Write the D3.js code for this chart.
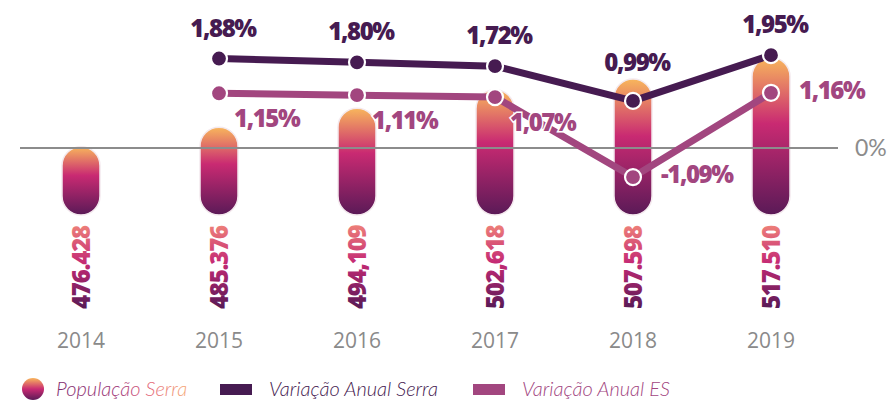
<!DOCTYPE html>
<html><head><meta charset="utf-8">
<script src="https://cdn.jsdelivr.net/npm/d3@7"></script>
<style>
html,body{margin:0;padding:0;background:#fff;}
svg{display:block;}
</style></head>
<body>
<svg id="chart" width="890" height="401"></svg>
<script>
// ---- data ----
const years = ["2014","2015","2016","2017","2018","2019"];
const population = [476428, 485376, 494109, 502618, 507598, 517510];
const populationLabels = ["476.428","485.376","494,109","502,618","507.598","517.510"];
const serraYears = ["2015","2016","2017","2018","2019"];
const serraVar = [1.88, 1.80, 1.72, 0.99, 1.95];
const esVar = [1.15, 1.11, 1.07, -1.09, 1.16];
const esLabelSide = ["below","below","below","right","right"];
const fmtPct = v => d3.format(".2f")(v).replace("\u2212", "-").replace(".", ",") + "%";

const svg = d3.select("#chart");

const x = d3.scalePoint().domain(years).range([81, 771]);
// bar scale (population)
const yPop = d3.scaleLinear().domain([445000, 520000]).range([215, 52]);
// variation scale (the original chart is drawn with a compressed negative side)
const yVar = d3.scaleLinear().domain([-1.5, 0, 2.5]).range([188, 148, 29]);

const defs = svg.append("defs");
const barGrad = defs.append("linearGradient").attr("id","barGrad")
  .attr("x1",0).attr("y1",0).attr("x2",0).attr("y2",1);
barGrad.append("stop").attr("offset","0%").attr("stop-color","#f8b65c");
barGrad.append("stop").attr("offset","42%").attr("stop-color","#c92a72");
barGrad.append("stop").attr("offset","100%").attr("stop-color","#5a1a57");

const txtGrad = defs.append("linearGradient").attr("id","txtGrad")
  .attr("x1",0).attr("y1",0).attr("x2",1).attr("y2",0);
txtGrad.append("stop").attr("offset","0%").attr("stop-color","#561a55");
txtGrad.append("stop").attr("offset","55%").attr("stop-color","#c42a74");
txtGrad.append("stop").attr("offset","100%").attr("stop-color","#ee8079");

const legGrad = defs.append("linearGradient").attr("id","legGrad")
  .attr("x1",0).attr("y1",0).attr("x2",1).attr("y2",0);
legGrad.append("stop").attr("offset","0%").attr("stop-color","#7e2a6c");
legGrad.append("stop").attr("offset","50%").attr("stop-color","#a23a78");
legGrad.append("stop").attr("offset","68%").attr("stop-color","#e0607a");
legGrad.append("stop").attr("offset","100%").attr("stop-color","#f5a878");

const dotGrad = defs.append("linearGradient").attr("id","dotGrad")
  .attr("x1",0).attr("y1",0).attr("x2",0).attr("y2",1);
dotGrad.append("stop").attr("offset","0%").attr("stop-color","#f8b65c");
dotGrad.append("stop").attr("offset","50%").attr("stop-color","#c92a72");
dotGrad.append("stop").attr("offset","100%").attr("stop-color","#5a1a57");

const barW = 38;
// bars
svg.append("g").selectAll("rect").data(population).join("rect")
  .attr("x",(d,i)=>x(years[i]) - barW/2)
  .attr("y",d=>yPop(d))
  .attr("width",barW)
  .attr("height",d=>yPop.range()[0]-yPop(d))
  .attr("rx",barW/2).attr("ry",barW/2)
  .attr("fill","url(#barGrad)")
  .attr("stroke","#f4e9ee").attr("stroke-width",1.5);

// zero line
svg.append("line")
  .attr("x1",20).attr("x2",838)
  .attr("y1",yVar(0)).attr("y2",yVar(0))
  .attr("stroke","#8c8c8c").attr("stroke-width",2);
svg.append("text").attr("x",855).attr("y",yVar(0)+8)
  .attr("font-family","Lato, 'Open Sans', sans-serif").attr("font-size",23)
  .attr("fill","#8c8c8c").text("0%");

// population labels (rotated)
svg.append("g").selectAll("text").data(populationLabels).join("text")
  .attr("transform",(d,i)=>`translate(${x(years[i])},309) rotate(-90)`)
  .attr("dy","0.36em")
  .attr("font-family","'Open Sans', sans-serif").attr("font-weight",800)
  .attr("font-size",24).attr("letter-spacing","-1.2")
  .attr("fill","url(#txtGrad)")
  .text(d=>d);

// year labels
svg.append("g").selectAll("text").data(years).join("text")
  .attr("x",d=>x(d)).attr("y",348)
  .attr("text-anchor","middle")
  .attr("font-family","'Open Sans', sans-serif").attr("font-size",21).attr("font-weight",500)
  .attr("fill","#8a8a8a").text(d=>d);

// lines
const line = d3.line().x(d=>x(d[0])).y(d=>yVar(d[1]));
const esData = serraYears.map((y,i)=>[y, esVar[i]]);
const serraData = serraYears.map((y,i)=>[y, serraVar[i]]);

svg.append("path").datum(esData).attr("d",line)
  .attr("fill","none").attr("stroke","#a2467f").attr("stroke-width",7)
  .attr("stroke-linejoin","round");
svg.append("path").datum(serraData).attr("d",line)
  .attr("fill","none").attr("stroke","#461b51").attr("stroke-width",7)
  .attr("stroke-linejoin","round");

svg.append("g").selectAll("circle").data(esData).join("circle")
  .attr("cx",d=>x(d[0])).attr("cy",d=>yVar(d[1])).attr("r",8)
  .attr("fill","#a2467f").attr("stroke","#fff").attr("stroke-width",2.2);
svg.append("g").selectAll("circle").data(serraData).join("circle")
  .attr("cx",d=>x(d[0])).attr("cy",d=>yVar(d[1])).attr("r",8)
  .attr("fill","#461b51").attr("stroke","#fff").attr("stroke-width",2.2);

// labels
svg.append("g").selectAll("text").data(serraData).join("text")
  .attr("x",d=>x(d[0])+4).attr("y",d=>yVar(d[1]) - (d[1] < 1.5 ? 30 : 22))
  .attr("text-anchor","middle")
  .attr("font-family","'Open Sans', sans-serif").attr("font-weight",800)
  .attr("font-size",24).attr("letter-spacing","-1.4")
  .attr("fill","#461b51").text(d=>fmtPct(d[1]));

svg.append("g").selectAll("text").data(esData).join("text")
  .attr("x",(d,i)=>x(d[0]) + (esLabelSide[i]==="below" ? 15 : 28))
  .attr("y",(d,i)=>yVar(d[1]) + (esLabelSide[i]==="below" ? 34 : 6))
  .attr("font-family","'Open Sans', sans-serif").attr("font-weight",800)
  .attr("font-size",24).attr("letter-spacing","-1.4")
  .attr("fill","#a2467f")
  .attr("stroke","#fff").attr("stroke-width",3).attr("paint-order","stroke")
  .text(d=>fmtPct(d[1]));

// legend
const lg = svg.append("g").attr("font-family","Lato, 'Open Sans', sans-serif")
  .attr("font-size",20).attr("font-style","italic").attr("font-weight",300);
lg.append("circle").attr("cx",33).attr("cy",389).attr("r",11).attr("fill","url(#dotGrad)");
lg.append("text").attr("x",56).attr("y",396).attr("fill","url(#legGrad)").text("População Serra");
lg.append("rect").attr("x",220).attr("y",384).attr("width",32).attr("height",11).attr("fill","#461b51");
lg.append("text").attr("x",269).attr("y",396).attr("fill","#461b51").text("Variação Anual Serra");
lg.append("rect").attr("x",473).attr("y",384).attr("width",32).attr("height",11).attr("fill","#a2467f");
lg.append("text").attr("x",522).attr("y",396).attr("fill","#a2467f").text("Variação Anual ES");
</script>
</body></html>
